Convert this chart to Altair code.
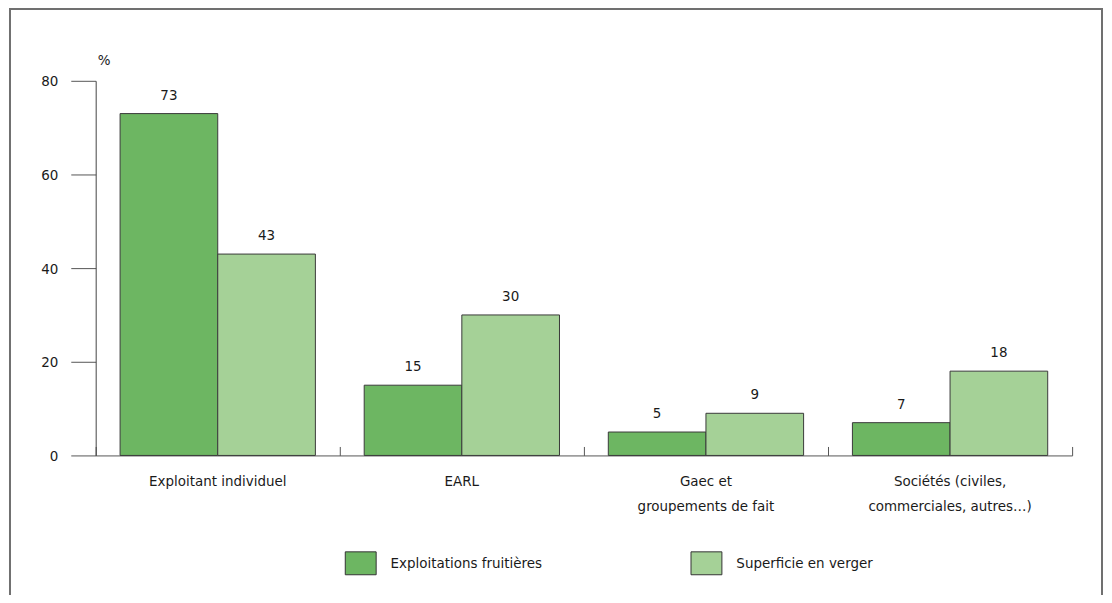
import altair as alt
import pandas as pd

F = "'DejaVu Sans Condensed', 'Liberation Sans Narrow', 'DejaVu Sans', sans-serif"
FS = 15

categories = [
    "Exploitant individuel",
    "EARL",
    "Gaec et\ngroupements de fait",
    "Sociétés (civiles,\ncommerciales, autres…)",
]
series = ["Exploitations fruitières", "Superficie en verger"]
exploitations = [73, 15, 5, 7]
superficie = [43, 30, 9, 18]
colors = ["#6db662", "#a5d197"]

rows = []
for c, a, b in zip(categories, exploitations, superficie):
    rows.append({"cat": c, "serie": series[0], "val": a})
    rows.append({"cat": c, "serie": series[1], "val": b})
df = pd.DataFrame(rows)
df_cats = pd.DataFrame({"cat": categories})

xscale = alt.Scale(paddingInner=0.2, paddingOuter=0.1)
xoff = alt.XOffset("serie:N", sort=series, scale=alt.Scale(paddingInner=0, paddingOuter=0))

yenc = alt.Y(
    "val:Q",
    scale=alt.Scale(domain=[0, 80], nice=False),
    axis=alt.Axis(
        values=[0, 20, 40, 60, 80],
        tickSize=25,
        labelPadding=13,
        grid=False,
        domainColor="#444444",
        tickColor="#555555",
        title="%",
        titleAngle=0,
        titleX=8,
        titleY=-16,
        titleAlign="center",
        titleBaseline="alphabetic",
        titleFontSize=FS,
        titleFontWeight="normal",
        labelFontSize=FS,
        labelColor="#1a1a1a",
        titleColor="#1a1a1a",
    ),
)

base = alt.Chart(df)

bars = base.mark_bar(stroke="#3a3a3a", strokeWidth=1).encode(
    x=alt.X(
        "cat:N",
        sort=categories,
        scale=xscale,
        axis=alt.Axis(
            title=None,
            labelAngle=0,
            ticks=False,
            tickSize=0,
            labelPadding=18,
            labelExpr="split(datum.label, '\\n')",
            labelLineHeight=25,
            labelFontSize=FS,
            labelColor="#1a1a1a",
            domainColor="#555555",
            grid=False,
        ),
    ),
    xOffset=xoff,
    y=yenc,
    color=alt.Color(
        "serie:N",
        sort=series,
        scale=alt.Scale(domain=series, range=colors),
        legend=alt.Legend(
            orient="none",
            legendX=250,
            legendY=468,
            direction="horizontal",
            title=None,
            symbolType="M-1,-0.742L1,-0.742L1,0.742L-1,0.742Z",
            symbolSize=961,
            symbolStrokeColor="#333333",
            symbolStrokeWidth=1,
            symbolOpacity=1,
            labelFontSize=FS,
            labelOffset=14,
            labelLimit=400,
            labelColor="#1a1a1a",
            columnPadding=146,
            padding=0,
        ),
    ),
)

labels = base.mark_text(
    dy=-14, baseline="alphabetic", fontSize=FS, font=F, color="#1a1a1a"
).encode(
    x=alt.X("cat:N", sort=categories, scale=xscale, axis=None),
    xOffset=xoff,
    y=yenc,
    text="val:Q",
)

tickl = alt.Chart(df_cats).mark_point(opacity=0).encode(
    x=alt.X(
        "cat:N",
        sort=categories,
        scale=alt.Scale(paddingInner=0, paddingOuter=0),
        axis=alt.Axis(
            orient="bottom",
            offset=-9,
            labels=False,
            domain=False,
            ticks=True,
            tickSize=9,
            tickBand="extent",
            tickColor="#555555",
            title=None,
            grid=False,
        ),
    ),
)

frame = alt.Chart(pd.DataFrame({"a": [0]})).mark_rect(
    filled=False, stroke="#707070", strokeWidth=2
).encode(
    x=alt.value(-86), x2=alt.value(1010), y=alt.value(-72), y2=alt.value(540)
)

chart = (
    alt.layer(frame, bars, labels, tickl)
    .resolve_scale(x="independent")
    .resolve_axis(x="independent")
    .properties(
        width=980,
        height=376,
        autosize=alt.AutoSizeParams(type="none"),
        padding={"left": 88, "top": 72, "right": 32, "bottom": 139},
    )
    .configure(font=F)
    .configure_axis(labelFont=F, titleFont=F)
    .configure_legend(labelFont=F)
    .configure_view(stroke=None)
)

chart.save("out.html", embed_options={"renderer": "svg", "actions": False})
